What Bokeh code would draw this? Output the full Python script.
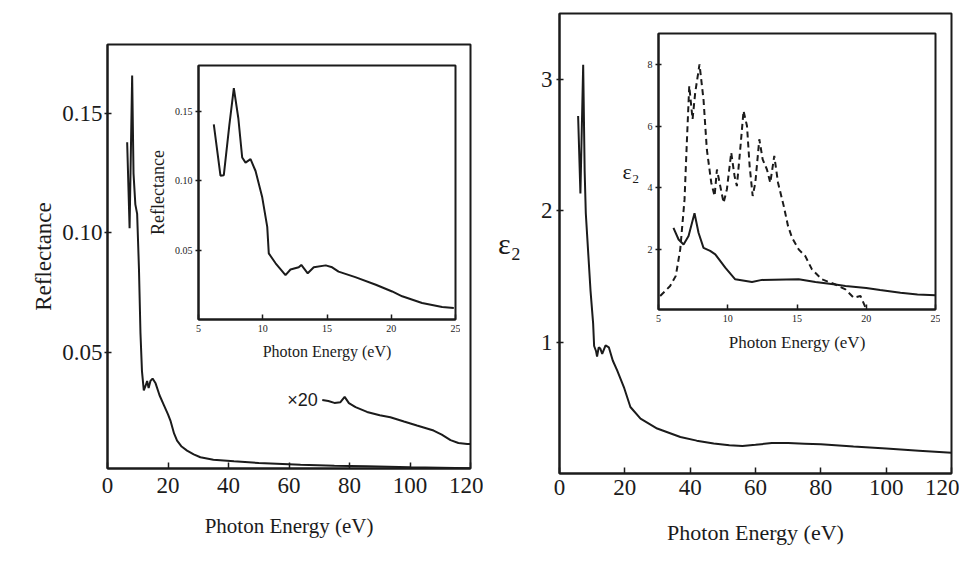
from bokeh.plotting import figure
from bokeh.layouts import column
from bokeh.models import GridBox, Label, FixedTicker, PrintfTickFormatter, Range1d
from bokeh.embed import file_html
from bokeh.resources import INLINE

# ---------------- data ----------------
# Left main panel: reflectance vs photon energy (eV)
refl_e = [6.5, 7.3, 8.15, 8.6, 9.2, 9.8, 10.4, 10.9, 11.4, 12.0, 12.6, 13.1, 13.6, 14.2,
          14.9, 15.9, 17.2, 18.6, 20.0, 20.8, 22.0, 23.0, 24.5, 26.3, 28.5, 30.7, 35.0,
          41.8, 50.0, 63.8, 75.0, 85.8, 100.0, 110.0, 120.0]
refl_r = [0.138, 0.102, 0.166, 0.125, 0.112, 0.108, 0.085, 0.058, 0.042, 0.034, 0.036,
          0.038, 0.035, 0.038, 0.039, 0.037, 0.032, 0.028, 0.024, 0.0214, 0.016, 0.013,
          0.0105, 0.0088, 0.0072, 0.006, 0.005, 0.0043, 0.0036, 0.0029, 0.0025, 0.0022,
          0.0018, 0.0016, 0.0014]
# "x20" magnified tail (as drawn)
x20_e = [71.0, 73.0, 75.0, 77.0, 78.4, 79.8, 82.0, 85.8, 90.0, 93.5, 98.0, 102.3, 107.8,
         110.5, 113.4, 116.0, 118.9, 120.0]
x20_r = [0.0300, 0.0296, 0.0288, 0.0291, 0.0313, 0.0287, 0.0270, 0.0250, 0.0236, 0.0228,
         0.0210, 0.0193, 0.0172, 0.0155, 0.0132, 0.0120, 0.0116, 0.0116]
# Left inset: reflectance 5-25 eV
ins_refl_e = [6.19, 6.71, 6.97, 7.4, 7.75, 8.1, 8.40, 8.66, 9.05, 9.44, 9.96, 10.35, 10.47,
              11.0, 11.77, 12.16, 12.8, 13.0, 13.5, 13.97, 14.9, 15.4, 15.9, 17.2, 18.8,
              20.07, 20.85, 22.4, 23.96, 24.87]
ins_refl_r = [0.1405, 0.1036, 0.104, 0.140, 0.1667, 0.145, 0.1167, 0.113, 0.1155, 0.107,
              0.088, 0.0667, 0.0476, 0.0405, 0.032, 0.036, 0.0376, 0.0393, 0.0333, 0.0376,
              0.039, 0.0376, 0.0345, 0.0305, 0.025, 0.0202, 0.0167, 0.0119, 0.009, 0.0083]
# Right main panel: epsilon_2 vs photon energy (eV)
eps_e = [5.7, 6.4, 7.25, 7.7, 8.05, 9.5, 10.3, 10.6, 11.2, 11.5, 12.0, 12.5, 13.07, 14.1,
         15.1, 16.3, 17.65, 19.7, 21.7, 24.8, 29.9, 37.0, 42.0, 47.2, 52.0, 56.0, 60.0,
         65.0, 70.0, 75.0, 80.0, 90.0, 100.0, 110.0, 120.0]
eps_v = [2.72, 2.13, 3.11, 2.3, 1.98, 1.39, 1.14, 0.97, 0.93, 0.89, 0.96, 0.95, 0.91, 0.975,
         0.96, 0.86, 0.784, 0.658, 0.506, 0.417, 0.342, 0.278, 0.25, 0.228, 0.215, 0.21,
         0.218, 0.232, 0.232, 0.227, 0.222, 0.205, 0.19, 0.174, 0.157]
# Right inset: solid curve
ins_eps_e = [6.08, 6.45, 6.81, 7.17, 7.60, 7.89, 8.25, 8.73, 9.1, 9.82, 10.54, 11.75, 12.47,
             15.12, 16.33, 17.77, 18.5, 20.0, 21.0, 22.47, 23.7, 25.0]
ins_eps_v = [2.70, 2.32, 2.16, 2.43, 3.17, 2.54, 2.05, 1.95, 1.84, 1.41, 1.03, 0.94, 1.01,
             1.03, 0.94, 0.86, 0.81, 0.75, 0.68, 0.59, 0.54, 0.51]
# Right inset: dashed curve
ins_dash_e = [5.12, 5.84, 6.25, 6.57, 6.88, 7.05, 7.22, 7.46, 7.65, 7.96, 8.25, 8.49, 8.81,
              9.05, 9.22, 9.46, 9.70, 9.94, 10.25, 10.49, 10.66, 10.9, 11.14, 11.39, 11.58,
              11.8, 11.99, 12.28, 12.52, 12.83, 13.07, 13.36, 13.63, 14.04, 14.35, 14.64,
              15.12, 15.6, 16.08, 16.8, 17.77, 18.5, 19.1, 19.58, 20.06]
ins_dash_v = [0.49, 0.81, 1.14, 2.0, 3.62, 5.51, 7.30, 6.22, 7.08, 8.0, 6.86, 5.24, 4.16,
              3.73, 4.59, 4.05, 3.51, 3.95, 5.14, 4.38, 4.05, 5.24, 6.49, 6.0, 4.70, 3.73,
              4.16, 5.57, 4.92, 4.59, 4.16, 5.03, 4.16, 3.41, 2.76, 2.38, 2.0, 1.78, 1.35,
              1.03, 0.86, 0.70, 0.43, 0.49, 0.0]

main_xticks = [0, 20, 40, 60, 80, 100, 120]
refl_yticks = [0.05, 0.10, 0.15]
eps_yticks = [1, 2, 3]
inset_xticks = [5, 10, 15, 20, 25]
ins_eps_yticks = [2, 4, 6, 8]

# ---------------- styling helpers ----------------
INK = "#1b1b1b"
SERIF = "Liberation Serif"


def make_fig(w, h, xr, yr, bl, br, bt, bb, transparent=False):
    p = figure(width=w, height=h, x_range=Range1d(*xr), y_range=Range1d(*yr),
               output_backend="svg", toolbar_location=None,
               min_border_left=bl, min_border_right=br,
               min_border_top=bt, min_border_bottom=bb)
    p.grid.visible = False
    p.outline_line_color = INK
    p.outline_line_width = 2
    p.outline_line_alpha = 1
    p.background_fill_color = "white"
    if transparent:
        p.border_fill_alpha = 0
    for ax in (p.xaxis[0], p.yaxis[0]):
        ax.axis_line_color = INK
        ax.axis_line_width = 2
        ax.major_tick_line_color = INK
        ax.major_tick_line_width = 1.5
        ax.minor_tick_line_color = None
        ax.major_label_text_font = SERIF
        ax.major_label_text_color = INK
        ax.axis_label_text_font = SERIF
        ax.axis_label_text_font_style = "normal"
        ax.axis_label_text_color = INK
    return p


def horizontal_ylabel(p, text, size, standoff, fallback_xy):
    ax = p.yaxis[0]
    try:
        ax.axis_label_orientation = "horizontal"
        ax.axis_label = text
        ax.axis_label_text_font_size = size
        ax.axis_label_standoff = standoff
    except Exception:
        p.add_layout(Label(x=fallback_xy[0], y=fallback_xy[1], x_units="screen",
                           y_units="screen", text=text, text_font=SERIF,
                           text_font_size=size, text_color=INK, text_align="center",
                           text_baseline="middle"))


# ---------------- left main ----------------
p1 = make_fig(483, 575, (0, 120), (0.0013, 0.179), 107, 13, 44, 107)
p1.xaxis.ticker = FixedTicker(ticks=main_xticks)
p1.yaxis.ticker = FixedTicker(ticks=refl_yticks)
p1.yaxis.formatter = PrintfTickFormatter(format="%.2f")
p1.xaxis.major_tick_in = 6
p1.xaxis.major_tick_out = 0
p1.yaxis.major_tick_in = 4
p1.yaxis.major_tick_out = 3
p1.xaxis.major_label_text_font_size = "23px"
p1.yaxis.major_label_text_font_size = "23px"
p1.xaxis.major_label_standoff = 9
p1.yaxis.major_label_standoff = 2
p1.xaxis.axis_label = "Photon Energy (eV)"
p1.yaxis.axis_label = "Reflectance"
p1.xaxis.axis_label_text_font_size = "21px"
p1.yaxis.axis_label_text_font_size = "23px"
p1.xaxis.axis_label_standoff = 18
p1.yaxis.axis_label_standoff = 3
p1.line(refl_e, refl_r, line_color=INK, line_width=2)
p1.line(x20_e, x20_r, line_color=INK, line_width=2)
p1.add_layout(Label(x=69.5, y=0.0300, text="×20", text_font="Liberation Sans",
                    text_font_size="18px", text_color=INK, text_align="right",
                    text_baseline="middle"))

# ---------------- left inset ----------------
i1 = make_fig(322, 314, (5, 25), (0.0, 0.183), 60, 5, 5, 55, transparent=True)
i1.xaxis.ticker = FixedTicker(ticks=inset_xticks)
i1.yaxis.ticker = FixedTicker(ticks=refl_yticks)
i1.yaxis.formatter = PrintfTickFormatter(format="%.2f")
i1.xaxis.major_tick_in = 5
i1.xaxis.major_tick_out = 0
i1.yaxis.major_tick_in = 3
i1.yaxis.major_tick_out = 3
i1.xaxis.major_label_text_font_size = "10px"
i1.yaxis.major_label_text_font_size = "10px"
i1.xaxis.major_label_standoff = 5
i1.yaxis.major_label_standoff = 3
i1.xaxis.axis_label = "Photon Energy (eV)"
i1.yaxis.axis_label = "Reflectance"
i1.xaxis.axis_label_text_font_size = "16px"
i1.yaxis.axis_label_text_font_size = "18px"
i1.xaxis.axis_label_standoff = 8
i1.yaxis.axis_label_standoff = 4
i1.line(ins_refl_e, ins_refl_r, line_color=INK, line_width=2)

# ---------------- right main ----------------
p2 = make_fig(476, 575, (0, 120), (0, 3.5), 76, 8, 13, 102)
p2.xaxis.ticker = FixedTicker(ticks=main_xticks)
p2.yaxis.ticker = FixedTicker(ticks=eps_yticks)
p2.xaxis.major_tick_in = 6
p2.xaxis.major_tick_out = 0
p2.yaxis.major_tick_in = 4
p2.yaxis.major_tick_out = 3
p2.xaxis.major_label_text_font_size = "23px"
p2.yaxis.major_label_text_font_size = "23px"
p2.xaxis.major_label_standoff = 6
p2.yaxis.major_label_standoff = 4
p2.xaxis.axis_label = "Photon Energy (eV)"
p2.xaxis.axis_label_text_font_size = "22px"
p2.xaxis.axis_label_standoff = 22
p2.line(eps_e, eps_v, line_color=INK, line_width=2)
horizontal_ylabel(p2, "ε₂", "30px", 17, (27, 318))

# ---------------- right inset ----------------
i2 = make_fig(338, 336, (5, 25), (0.05, 9.0), 56, 5, 5, 55, transparent=True)
i2.xaxis.ticker = FixedTicker(ticks=inset_xticks)
i2.yaxis.ticker = FixedTicker(ticks=ins_eps_yticks)
i2.xaxis.major_tick_in = 5
i2.xaxis.major_tick_out = 0
i2.yaxis.major_tick_in = 3
i2.yaxis.major_tick_out = 3
i2.xaxis.major_label_text_font_size = "10px"
i2.yaxis.major_label_text_font_size = "10px"
i2.xaxis.major_label_standoff = 5
i2.yaxis.major_label_standoff = 3
i2.xaxis.axis_label = "Photon Energy (eV)"
i2.xaxis.axis_label_text_font_size = "17px"
i2.xaxis.axis_label_standoff = 8
i2.line(ins_dash_e, ins_dash_v, line_color=INK, line_width=2, line_dash="6 4")
i2.line(ins_eps_e, ins_eps_v, line_color=INK, line_width=2)
horizontal_ylabel(i2, "ε₂", "22px", 5, (26, 146))

# ---------------- layout: overlapping grid cells ----------------
grid = GridBox(
    children=[(column(p1), 0, 0, 5, 3), (column(p2), 0, 3, 5, 3),
              (column(i1), 2, 1, 2, 1), (column(i2), 1, 4, 2, 1)],
    rows=["28px", "32px", "304px", "10px", "201px"],
    cols=["138px", "322px", "23px", "119px", "338px", "19px"],
    spacing=0,
)

open("out.html", "w").write(file_html(grid, INLINE))
